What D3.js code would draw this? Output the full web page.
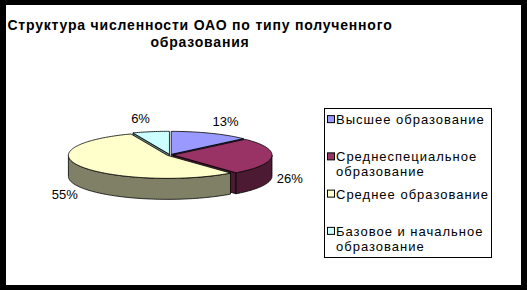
<!DOCTYPE html>
<html>
<head>
<meta charset="utf-8">
<script src="https://cdn.jsdelivr.net/npm/d3@7"></script>
<style>
  body { margin: 0; background: #000; }
  svg { display: block; }
  text { font-family: "Liberation Sans", Arial, sans-serif; }
</style>
</head>
<body>
<div id="chart"></div>
<script>
const titleLines = ["Структура численности ОАО по типу полученного", "образования"];
const categories = ["Высшее образование", "Среднеспециальное образование", "Среднее образование", "Базовое и начальное образование"];
const values = [13, 26, 55, 6];
const topColors = ["#9999FF", "#993366", "#FFFFCC", "#CCFFFF"];
const sideColors = ["#4D4D80", "#4D1A33", "#808066", "#668080"];

const width = 527, height = 290;
const svg = d3.select("#chart").append("svg")
    .attr("width", width)
    .attr("height", height);

// frame
svg.append("rect").attr("width", width).attr("height", height).attr("fill", "#000");
svg.append("rect").attr("x", 6).attr("y", 5).attr("width", 515).attr("height", 280).attr("fill", "#fff");

// title
svg.append("text")
    .attr("x", 200).attr("y", 30)
    .attr("text-anchor", "middle")
    .attr("font-size", 14).attr("font-weight", "bold")
    .attr("letter-spacing", 0.8)
    .selectAll("tspan").data(titleLines).enter().append("tspan")
    .attr("x", 200)
    .attr("dy", (d, i) => i === 0 ? 0 : 17)
    .text(d => d);

// 3d pie
const cx = 170, cy = 155, rx = 99, ry = 23, depth = 21, explode = 3;
const pie = d3.pie().sort(null).value(d => d);
const arcs = pie(values);
const color = d3.scaleOrdinal().domain(d3.range(values.length)).range(topColors);
const side = d3.scaleOrdinal().domain(d3.range(values.length)).range(sideColors);
const line = d3.line();

function offset(d) {
    const mid = (d.startAngle + d.endAngle) / 2;
    return [explode * Math.sin(mid), -explode * Math.cos(mid) * ry / rx];
}
function pt(d, a, dz) {
    const o = offset(d);
    return [cx + o[0] + rx * Math.sin(a), cy + o[1] - ry * Math.cos(a) + (dz || 0)];
}
function centerPt(d, dz) {
    const o = offset(d);
    return [cx + o[0], cy + o[1] + (dz || 0)];
}
function arcPts(d, a0, a1, dz) {
    const n = Math.max(2, Math.ceil((a1 - a0) / 0.02));
    return d3.range(n + 1).map(i => pt(d, a0 + (a1 - a0) * i / n, dz));
}

const pieces = [];
arcs.forEach((d, i) => {
    // outer wall, front half only
    const w0 = Math.max(d.startAngle, Math.PI / 2), w1 = Math.min(d.endAngle, 3 * Math.PI / 2);
    if (w1 > w0) {
        const pts = arcPts(d, w0, w1, 0).concat(arcPts(d, w0, w1, depth).reverse());
        pieces.push({ i: i, pts: pts, key: d3.max(pts, p => p[1]) });
    }
    // cut faces that look toward the viewer
    if (Math.sin(d.startAngle) < -1e-6) {
        const pts = [centerPt(d), pt(d, d.startAngle), pt(d, d.startAngle, depth), centerPt(d, depth)];
        pieces.push({ i: i, pts: pts, key: d3.max(pts, p => p[1]) - 1 });
    }
    if (Math.sin(d.endAngle) > 1e-6) {
        const pts = [centerPt(d), pt(d, d.endAngle), pt(d, d.endAngle, depth), centerPt(d, depth)];
        pieces.push({ i: i, pts: pts, key: d3.max(pts, p => p[1]) - 1 });
    }
});
pieces.sort((a, b) => a.key - b.key);

const pieG = svg.append("g");
pieG.selectAll("path.side").data(pieces).enter().append("path")
    .attr("class", "side")
    .attr("d", p => line(p.pts) + "Z")
    .attr("fill", p => side(p.i))
    .attr("stroke", "#000")
    .attr("stroke-width", 0.8)
    .attr("stroke-linejoin", "round");

pieG.selectAll("path.top").data(arcs).enter().append("path")
    .attr("class", "top")
    .attr("d", d => line([centerPt(d)].concat(arcPts(d, d.startAngle, d.endAngle, 0))) + "Z")
    .attr("fill", (d, i) => color(i))
    .attr("stroke", "#000")
    .attr("stroke-width", 0.8)
    .attr("stroke-linejoin", "round");

// percent labels
const total = d3.sum(values);
const fmt = d3.format(".0%");
const lrx = rx + 8, lry = ry + 14;
svg.append("g").selectAll("text").data(arcs).enter().append("text")
    .attr("x", d => cx + lrx * Math.sin((d.startAngle + d.endAngle) / 2))
    .attr("y", d => {
        const mid = (d.startAngle + d.endAngle) / 2;
        return cy - lry * Math.cos(mid) + (Math.cos(mid) < 0 ? depth : 0) + 4.5;
    })
    .attr("text-anchor", d => Math.sin((d.startAngle + d.endAngle) / 2) > 0 ? "start" : "end")
    .attr("font-size", 13)
    .text(d => fmt(d.value / total));

// legend
const lx = 324, ly = 108, lw = 167, lh = 149;
const legend = svg.append("g");
legend.append("rect")
    .attr("x", lx + 0.5).attr("y", ly + 0.5)
    .attr("width", lw).attr("height", lh)
    .attr("fill", "#fff").attr("stroke", "#000");

const slot = lh / categories.length;
const lineH = 15, maxW = 156;
categories.forEach((c, i) => {
    const g = legend.append("g");
    const base = ly + slot * (i + 0.5) - lineH / 2 + 5;
    const t = g.append("text")
        .attr("x", lx + 12).attr("y", base)
        .attr("font-size", 13)
        .attr("letter-spacing", 1);
    // wrap words into lines
    const words = c.split(" ");
    let cur = [];
    let ts = t.append("tspan").attr("x", lx + 12).attr("y", base);
    let row = 0;
    words.forEach(w => {
        cur.push(w);
        ts.text(cur.join(" "));
        if (ts.node().getComputedTextLength() > maxW && cur.length > 1) {
            cur.pop();
            ts.text(cur.join(" "));
            cur = [w];
            row++;
            ts = t.append("tspan").attr("x", lx + 12).attr("y", base + row * lineH).text(w);
        }
    });
    g.append("rect")
        .attr("x", lx + 3.5).attr("y", base - 8.5)
        .attr("width", 7).attr("height", 7)
        .attr("fill", color(i)).attr("stroke", "#000");
});
</script>
</body>
</html>
